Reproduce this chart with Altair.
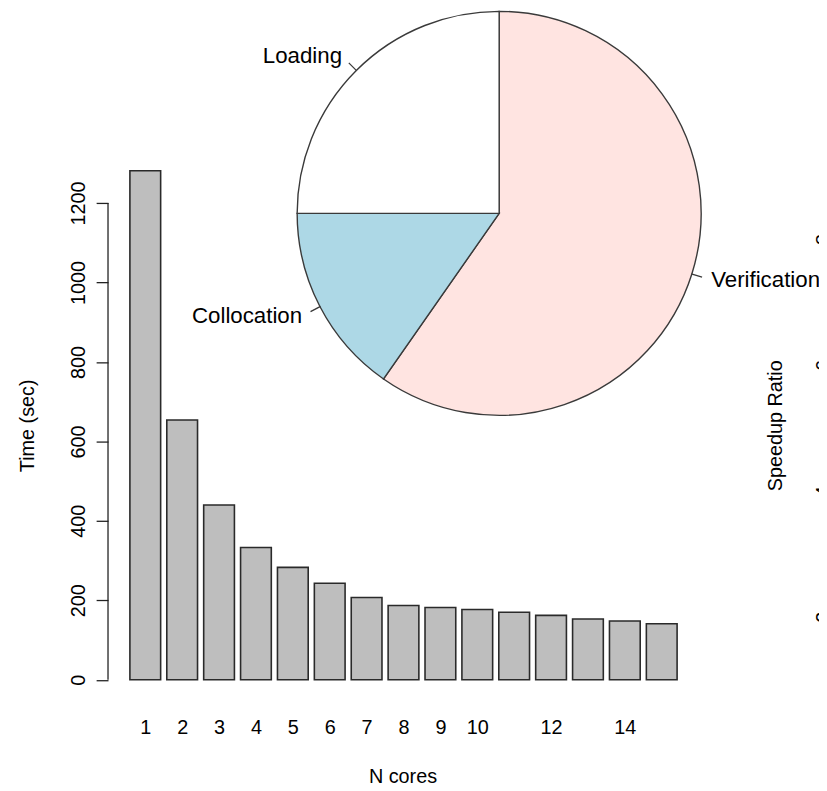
import altair as alt
import pandas as pd

# ---------------- data ----------------
cores = list(range(1, 16))
times = [1281, 654, 440, 333, 283, 243, 207, 187, 182, 177, 170, 162, 153, 148, 141]
x_tick_values = [1, 2, 3, 4, 5, 6, 7, 8, 9, 10, 12, 14]
y_tick_values = [0, 200, 400, 600, 800, 1000, 1200]
speedup_tick_values = [2, 4, 6, 8]

pie_parts = ["Verification", "Collocation", "Loading"]
pie_shares = [59.7, 15.3, 25.0]
pie_colors = ["#FFE4E1", "#ADD8E6", "#FFFFFF"]

FONT = "Liberation Sans"

# ---------------- layout ----------------
W, H = 596.8, 555.1
PAD = {"left": 101, "top": 140, "right": 121.2, "bottom": 87.9}
HW = 0.5 / 1.2                      # half bar width (R barplot space=0.2)
x_lo, x_hi = cores[0] - HW, cores[-1] + HW
x_ext = 0.04 * (x_hi - x_lo)
x_dom = [x_lo - x_ext, x_hi + x_ext]
tmax = max(times)
y_dom = [-0.04 * tmax, 1.04 * tmax]
sp = [times[0] / t for t in times]
sp_ext = 0.04 * (max(sp) - min(sp))
sp_dom = [min(sp) - sp_ext, max(sp) + sp_ext]

CX, CY, R = 395, 63.5, 204           # pie centre (view px) and radius

bar_df = pd.DataFrame({"core": cores, "time": times})
pie_df = pd.DataFrame({"part": pie_parts, "share": pie_shares,
                       "idx": list(range(len(pie_parts)))})

bars = (
    alt.Chart(bar_df)
    .transform_calculate(x0=f"datum.core - {HW}", x1=f"datum.core + {HW}", base="0")
    .mark_rect(fill="#BEBEBE", stroke="#2a2a2a", strokeWidth=1.6)
    .encode(
        x=alt.X("x0:Q", scale=alt.Scale(domain=x_dom, nice=False, zero=False),
                axis=alt.Axis(values=x_tick_values, format="d", title="N cores",
                              domain=False, ticks=False, tickSize=0, grid=False,
                              labelPadding=34, labelBaseline="alphabetic",
                              labelFlush=False, labelOverlap=False,
                              titleX=W / 2 - 1, titleY=83, titleAlign="center",
                              titleBaseline="alphabetic")),
        x2="x1:Q",
        y=alt.Y("time:Q", scale=alt.Scale(domain=y_dom, nice=False, zero=False),
                axis=alt.Axis(values=y_tick_values, format="d", title="Time (sec)",
                              domain=False, grid=False, tickSize=12, tickWidth=1.3,
                              labelAngle=270, labelAlign="center",
                              labelBaseline="alphabetic", labelPadding=12,
                              labelFlush=False, labelOverlap=False,
                              titleAngle=270, titleX=-75, titleY=H / 2,
                              titleAlign="center", titleBaseline="alphabetic")),
        y2="base:Q",
    )
)

axis_line = (
    alt.Chart(alt.Data(values=[{}]))
    .mark_rule(color="#222222", strokeWidth=1.3)
    .encode(x=alt.value(0), y=alt.datum(min(y_tick_values)),
            y2=alt.datum(max(y_tick_values)))
)

pie_base = (
    alt.Chart(pie_df)
    .transform_joinaggregate(total="sum(share)")
    .transform_window(cum="sum(share)", sort=[alt.SortField("idx")], frame=[None, 0])
    .transform_calculate(
        t1="datum.cum / datum.total * 2 * PI",
        t0="(datum.cum - datum.share) / datum.total * 2 * PI",
        mid="(datum.t0 + datum.t1) / 2",
        mid2="datum.mid + 0.0005",
    )
)

arcs = pie_base.mark_arc(radius=R, stroke="#3a3a3a", strokeWidth=1.4).encode(
    x=alt.value(CX), y=alt.value(CY),
    theta=alt.Theta("t0:Q", scale=None, stack=False), theta2="t1:Q",
    color=alt.Color("part:N", scale=alt.Scale(domain=pie_parts, range=pie_colors),
                    legend=None),
)

pie_ticks = pie_base.mark_arc(radius=R, radius2=R * 1.05, stroke="#3a3a3a",
                              strokeWidth=1.2, fill="#3a3a3a").encode(
    x=alt.value(CX), y=alt.value(CY),
    theta=alt.Theta("mid:Q", scale=None, stack=False), theta2="mid2:Q",
)

label_kw = dict(baseline="middle", radius=R * 1.1, fontSize=22.5, font=FONT,
                color="black")
labels_left = pie_base.transform_filter("datum.mid > PI").mark_text(
    align="right", **label_kw).encode(
    x=alt.value(CX), y=alt.value(CY),
    theta=alt.Theta("mid:Q", scale=None, stack=False), text="part:N")
labels_right = pie_base.transform_filter("datum.mid <= PI").mark_text(
    align="left", **label_kw).encode(
    x=alt.value(CX), y=alt.value(CY),
    theta=alt.Theta("mid:Q", scale=None, stack=False), text="part:N")

speedup = (
    alt.Chart(bar_df)
    .transform_joinaggregate(tmax="max(time)")
    .transform_calculate(speedup="datum.tmax / datum.time")
    .mark_point(opacity=0)
    .encode(
        y=alt.Y("speedup:Q", scale=alt.Scale(domain=sp_dom, nice=False, zero=False),
                axis=alt.Axis(orient="left", offset=-753, values=speedup_tick_values,
                              format="d", title="Speedup Ratio", domain=False,
                              grid=False, tickSize=12, labelAngle=270,
                              labelAlign="center", labelBaseline="alphabetic",
                              labelPadding=12, titleAngle=270, titleX=-73,
                              titleY=H / 2, titleAlign="center",
                              titleBaseline="alphabetic"))
    )
)

chart = (
    alt.layer(alt.layer(bars, axis_line), arcs, pie_ticks, labels_left,
              labels_right, speedup)
    .resolve_scale(y="independent")
    .properties(width=W, height=H, autosize=alt.AutoSizeParams(type="none"),
                padding=PAD, background="white")
    .configure_view(stroke=None)
    .configure_axis(labelFont=FONT, titleFont=FONT, labelColor="black",
                    titleColor="black", tickColor="#222222", labelFontSize=20,
                    titleFontSize=20, titleFontWeight="normal")
)

chart.save("out.html", embed_options={"renderer": "svg", "actions": False})
